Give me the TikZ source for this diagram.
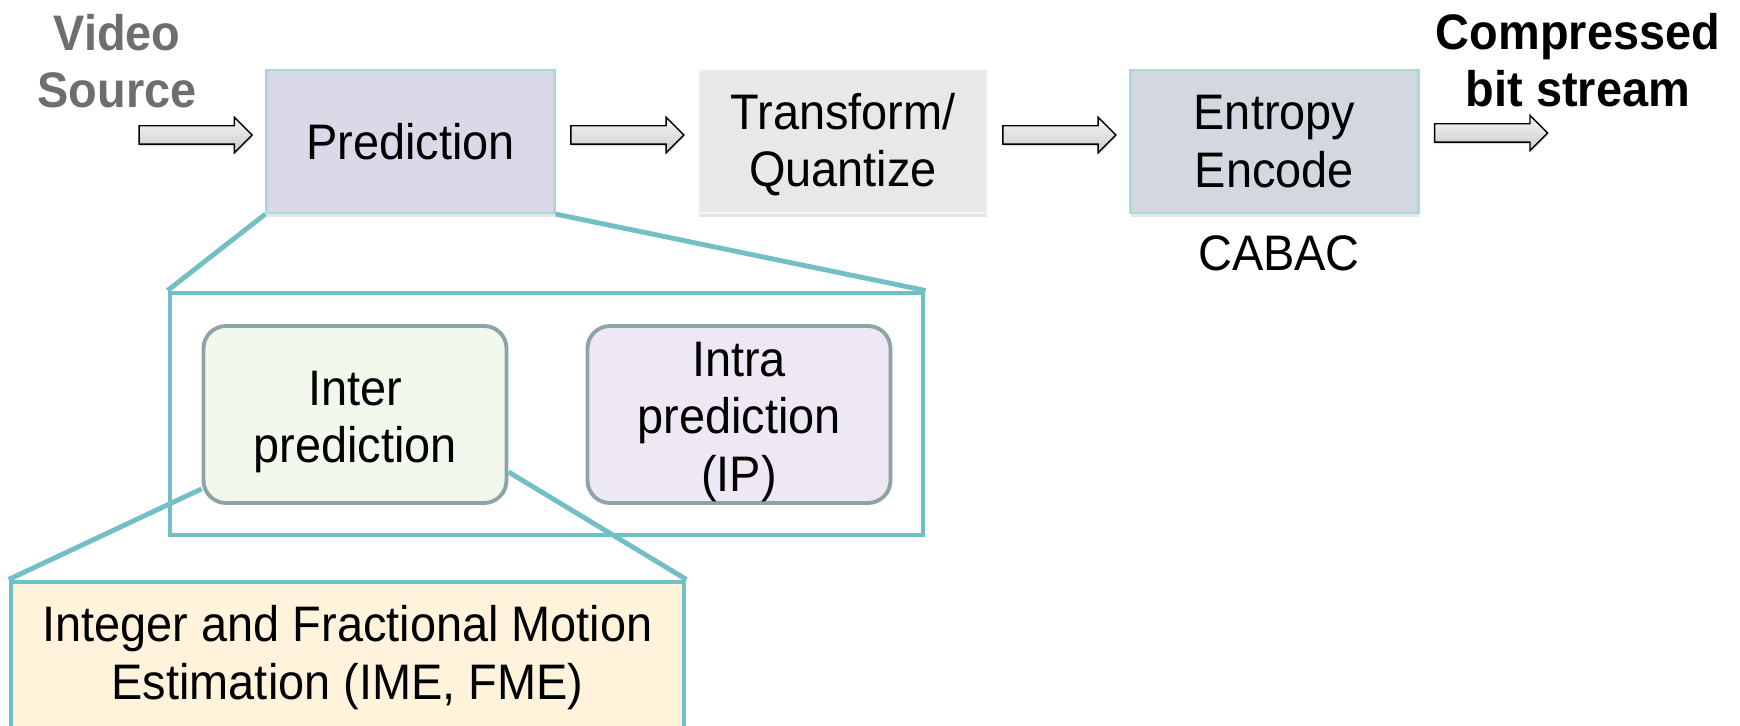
\documentclass[tikz,border=0pt]{standalone}
\usepackage{fontspec}
\setmainfont{Liberation Sans}[FakeStretch=0.94]
\usetikzlibrary{positioning,calc,shapes.arrows,shadows}

\definecolor{predfill}{HTML}{D9D9E8}
\definecolor{prededge}{HTML}{A9D8DE}
\definecolor{transfill}{HTML}{E8E8E8}
\definecolor{entfill}{HTML}{D3D7E0}
\definecolor{interfill}{HTML}{F2F8EC}
\definecolor{intrafill}{HTML}{EDE8F3}
\definecolor{subedge}{HTML}{8EA3A7}
\definecolor{zoomteal}{HTML}{72BFC5}
\definecolor{mefill}{HTML}{FFF4DB}
\definecolor{srcgray}{HTML}{6E6E6E}

\begin{document}
\begin{tikzpicture}[
        every node/.style={font=\fontsize{28.4}{32.6}\selectfont, align=center},
        stage/.style={line width=1.2pt, minimum width=5.76cm, minimum height=2.86cm,
                      inner sep=0pt, drop shadow={shadow xshift=0pt, shadow yshift=-0.09cm, opacity=0.2}},
        subbox/.style={draw=subedge, rounded corners=0.45cm, line width=2.2pt,
                       minimum width=6.06cm, minimum height=3.54cm, inner sep=0pt},
        zoombox/.style={draw=zoomteal, line width=2.8pt, inner sep=0pt},
        zoomline/.style={draw=zoomteal, line width=2.8pt},
        endlabel/.style={font=\fontsize{28.4}{32.6}\selectfont\bfseries},
        blockarrow/.style={single arrow, draw=black, line width=0.8pt,
                           top color=gray!8, bottom color=gray!40,
                           minimum height=2.26cm, inner xsep=0pt, inner ysep=0.17cm,
                           single arrow head extend=0.17cm, single arrow tip angle=90,
                           drop shadow={shadow xshift=0.02cm, shadow yshift=-0.04cm, opacity=0.25}}
    ]
    \useasboundingbox (0,0) rectangle (34.8,14.52);

    % encoder pipeline
    \node[stage, fill=predfill, draw=prededge] (pred) at (8.21,11.69) {Prediction};
    \node[stage, fill=transfill, draw=white!92!gray] (trans) at (16.86,11.69) {\rule{0pt}{0.85em}Transform/\\Quantize};
    \node[stage, fill=entfill, draw=prededge] (entropy) at (25.49,11.69) {Entropy\\Encode};
    \node (cabac) at (25.58,9.46) {CABAC};

    \node[endlabel, text=srcgray] (src) at (2.34,13.30) {Video\\Source};
    \node[endlabel] (out) at (31.56,13.32) {Compressed\\bit stream};

    \node[blockarrow] (arr1) at ($(pred.west)+(-1.49,0.13)$) {};
    \node[blockarrow] (arr2) at ($(pred.east)!0.5!(trans.west)+(-0.08,0.13)$) {};
    \node[blockarrow] (arr3) at ($(trans.east)!0.5!(entropy.west)+(-0.08,0.13)$) {};
    \node[blockarrow] (arr4) at ($(entropy.east)+(1.34,0.17)$) {};

    % prediction zoom
    \node[zoombox, minimum width=15.06cm, minimum height=4.84cm] (predzoom) at (10.93,6.24) {};
    \draw[zoomline] (pred.south west) -- (predzoom.north west);
    \draw[zoomline] (pred.south east) -- (predzoom.north east);

    \node[subbox, fill=interfill] (inter) at (7.10,6.23) {\rule{0pt}{0.98em}Inter\\prediction};
    \node[subbox, fill=intrafill] (intra) at (14.78,6.23) {\rule{0pt}{0.98em}Intra\\prediction\\(IP)};

    % inter prediction zoom
    \node[zoombox, fill=mefill, minimum width=13.46cm, minimum height=3.02cm] (me) at (6.95,1.37)
        {Integer and Fractional Motion\\Estimation (IME, FME)};
    \draw[zoomline] ([yshift=0.32cm]inter.south west) -- (me.north west);
    \draw[zoomline] ([yshift=0.66cm]inter.south east) -- (me.north east);
\end{tikzpicture}
\end{document}
